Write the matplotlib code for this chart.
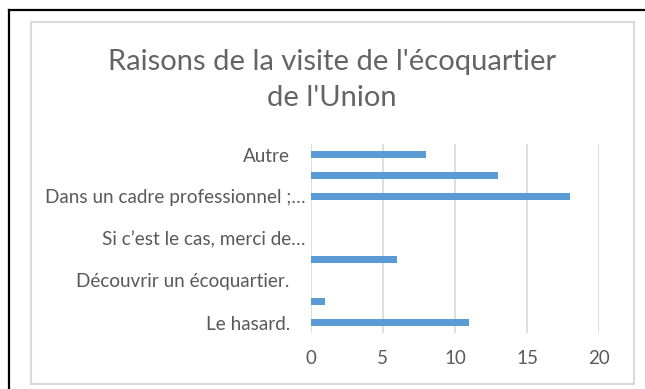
import matplotlib
matplotlib.use("Agg")
import matplotlib.pyplot as plt
from matplotlib.patches import Rectangle
from matplotlib.lines import Line2D

# Survey answers, listed from bottom to top of the chart
categories = [
    "Le hasard.",
    "",
    "Découvrir un écoquartier.",
    "",
    "Si c’est le cas, merci de…",
    "",
    "Dans un cadre professionnel ;…",
    "",
    "Autre",
]
counts = [11, 1, 0, 6, 0, 0, 18, 13, 8]
x_ticks = [0, 5, 10, 15, 20]
title = "Raisons de la visite de l'écoquartier\nde l'Union"

W, H = 645, 389
fig = plt.figure(figsize=(W / 100, H / 100), dpi=100)
fig.patch.set_facecolor("white")

FONT = "Lato"
GREY_TXT = "#595959"
GRID = "#d9d9d9"
BAR = "#5b9bd5"

# outer black frame (only top and left edges visible)
fig.add_artist(Line2D([9 / W, 9 / W], [0, 1 - 10 / H], transform=fig.transFigure,
                      color="black", lw=1.6))
fig.add_artist(Line2D([9 / W, 1], [1 - 10 / H, 1 - 10 / H], transform=fig.transFigure,
                      color="black", lw=1.6))
# chart area border
fig.add_artist(Rectangle((31 / W, 1 - 384 / H), (634 - 31) / W, (384 - 22) / H,
                         transform=fig.transFigure, fill=False, ec=GRID, lw=1.5))

left, right = 310.7 / W, 599.3 / W
bottom, top = 1 - 333 / H, 1 - 144 / H
ax = fig.add_axes([left, bottom, right - left, top - bottom])

ypos = list(range(len(categories)))
ax.barh(ypos, counts, height=0.34, color=BAR, zorder=3)

ax.set_xlim(0, 20)
ax.set_ylim(-0.5, len(categories) - 0.5)
ax.set_xticks(x_ticks)
ax.set_xticklabels([str(v) for v in x_ticks])
ax.set_yticks(ypos)
ax.set_yticklabels(categories)

ax.grid(axis="x", color=GRID, lw=1.2, zorder=0)
ax.grid(axis="y", visible=False)
for s in ax.spines.values():
    s.set_visible(False)
ax.set_facecolor("white")

ax.tick_params(axis="x", length=0, pad=12, labelsize=13.5, labelcolor=GREY_TXT)
ax.tick_params(axis="y", length=0, labelsize=13.6, labelcolor=GREY_TXT)
for lab in ax.get_xticklabels() + ax.get_yticklabels():
    lab.set_family(FONT)

# truncated labels sit closer to the axis
for tick, lab in zip(ax.yaxis.get_major_ticks(), categories):
    tick.set_pad(3.5 if lab.endswith("…") else 15)

fig.text(332 / W, 1 - 49 / H, title, ha="center", va="top", fontsize=21,
         family=FONT, color="#646464", linespacing=1.5)

fig.savefig("out.png", dpi=100)
